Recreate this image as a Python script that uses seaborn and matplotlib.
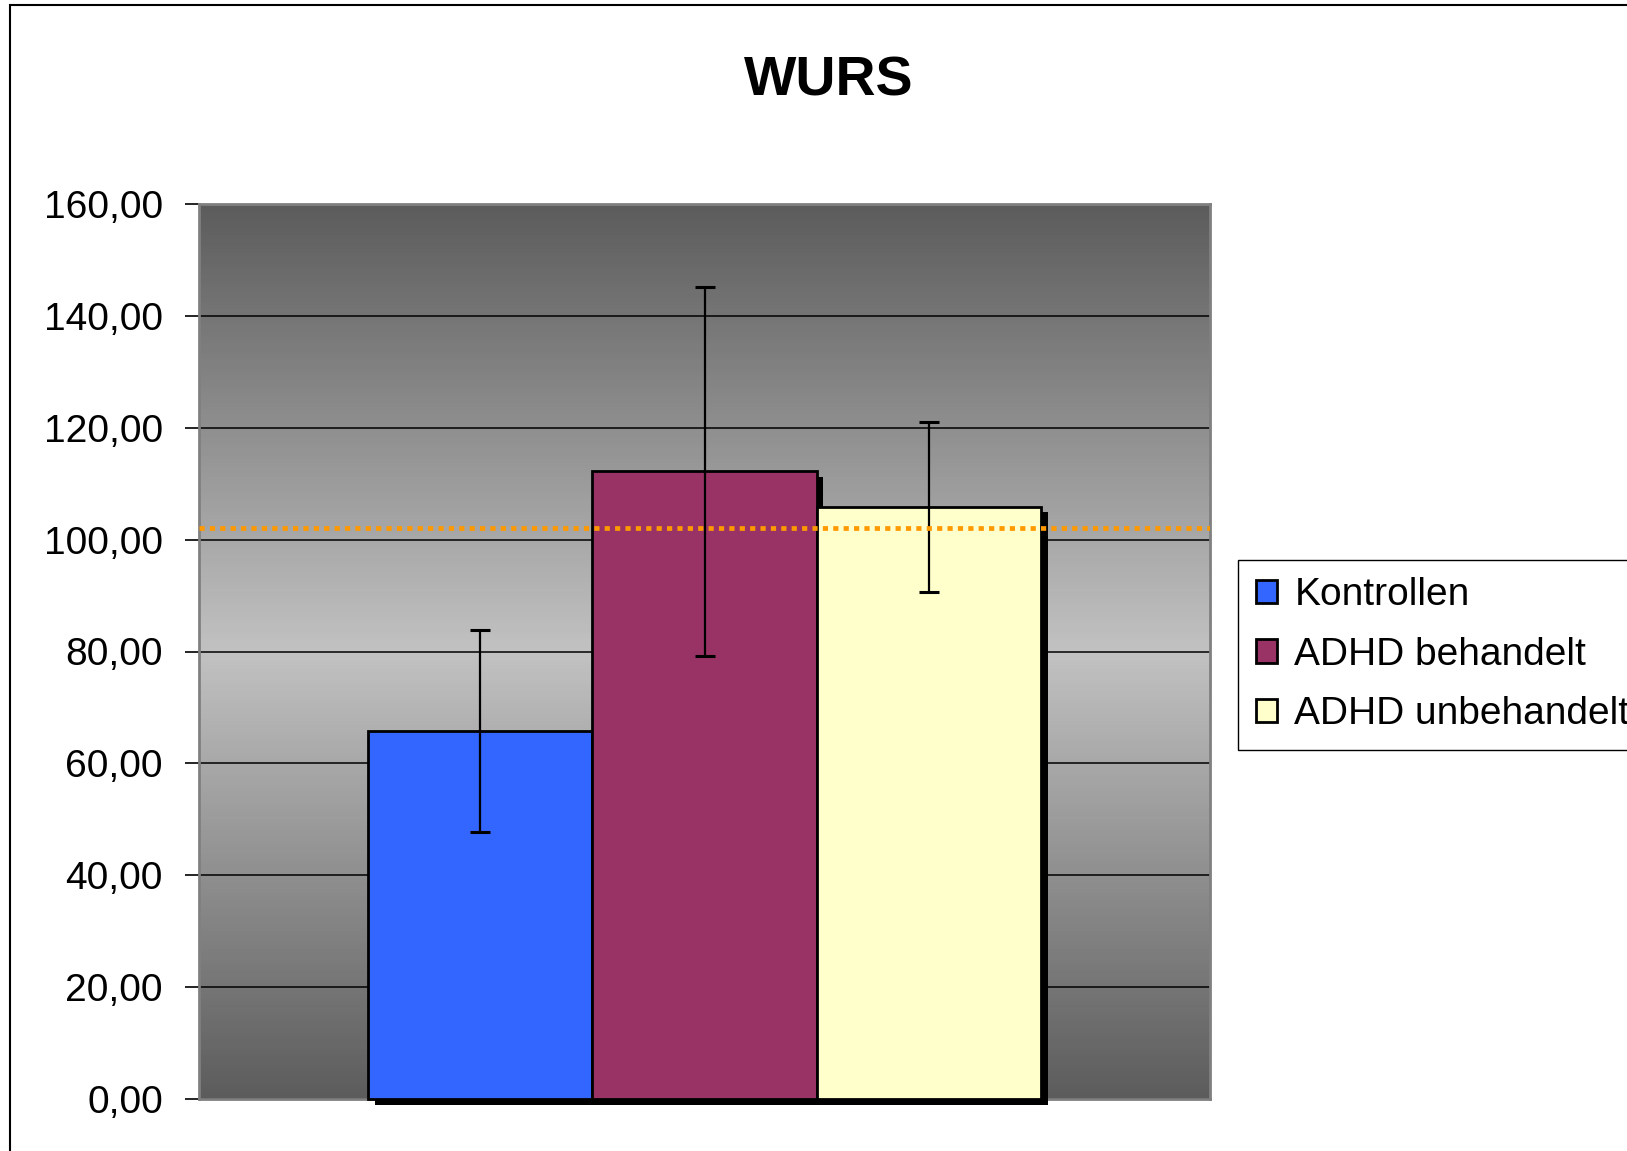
import numpy as np
import pandas as pd
import seaborn as sns
import matplotlib.pyplot as plt
import matplotlib.patheffects as pe
from matplotlib.ticker import FuncFormatter, MultipleLocator

sns.set_theme(style="white")
plt.rcParams["font.family"] = ["Liberation Sans", "DejaVu Sans"]
plt.rcParams["text.color"] = "black"

# data
groups = ["Kontrollen", "ADHD behandelt", "ADHD unbehandelt"]
means = [65.8, 112.2, 105.9]
errors = [18.1, 33.0, 15.2]
cutoff = 102.0
colors = ["#3366FF", "#993366", "#FFFFCC"]

df = pd.DataFrame({"skala": ["WURS"] * 3, "gruppe": groups, "wert": means})

fig = plt.figure(figsize=(16.27, 11.51), dpi=100)
ax = fig.add_axes([199 / 1627, 1 - 1099 / 1151, 1011 / 1627, 895 / 1151])

# grauer Verlauf im Hintergrund
t = np.linspace(0, 1, 256)
v = 1 - np.abs(2 * t - 1)
grad = (0x5c + (0xc2 - 0x5c) * v) / 255
img = np.stack([grad, grad, grad], axis=-1)[:, None, :].repeat(2, axis=1)
ax.imshow(img, extent=[0, 1, 0, 1], transform=ax.transAxes, aspect="auto", zorder=0)

sns.barplot(data=df, x="skala", y="wert", hue="gruppe", palette=colors, saturation=1,
            width=0.665, edgecolor="black", linewidth=2, errorbar=None, ax=ax,
            zorder=3)

shadow = [pe.SimplePatchShadow(offset=(5, -4), shadow_rgbFace="black", alpha=1.0), pe.Normal()]
bars = [p for p in ax.patches if p.get_height() > 0]
for p in bars:
    p.set_path_effects(shadow)
    p.set_clip_on(False)

# Fehlerbalken
xs = [p.get_x() + p.get_width() / 2 for p in bars]
ax.errorbar(xs, means, yerr=errors, fmt="none", ecolor="black", elinewidth=1.6,
            capsize=7.5, capthick=2.2, zorder=5)

ax.axhline(cutoff, color="#FF9900", linestyle=(0, (1.1, 1.1)), linewidth=3.4, zorder=6)

ax.set_xlim(-0.5, 0.5)
ax.set_ylim(0, 160)
ax.yaxis.set_major_locator(MultipleLocator(20))
ax.yaxis.set_major_formatter(FuncFormatter(lambda y, _: f"{y:.2f}".replace(".", ",")))
ax.grid(axis="y", color="black", linewidth=1.1)
ax.set_axisbelow(True)
ax.set_xticks([])
ax.set_xlabel("")
ax.set_ylabel("")
ax.tick_params(axis="y", left=True, length=10, width=1.2, color="black",
               pad=16, labelsize=28, labelcolor="black")
for s in ax.spines.values():
    s.set_color("#808080")
    s.set_linewidth(2)

handles, labels = ax.get_legend_handles_labels()
for h in handles:
    h.set_edgecolor("black")
    h.set_linewidth(2)
ax.legend(handles, labels, loc="upper left", bbox_to_anchor=(1238 / 1627, 1 - 560 / 1151),
          bbox_transform=fig.transFigure, borderaxespad=0, fontsize=28, frameon=True,
          fancybox=False, edgecolor="black", framealpha=1, borderpad=0.45,
          labelspacing=0.6, handlelength=0.55, handleheight=0.55, handletextpad=0.45,
          labelcolor="black")
ax.get_legend().get_frame().set_linewidth(1)

fig.text(829 / 1627, 1 - 82 / 1151, "WURS", ha="center", va="center",
         fontsize=40, fontweight="bold", color="black")

# Rahmen des Diagrammbereichs
fig.patches.append(plt.Rectangle((10 / 1627, -0.02), 1.05, 1 - 5 / 1151 + 0.02,
                                 transform=fig.transFigure, fill=False,
                                 edgecolor="black", linewidth=1.5))

fig.savefig("out.png", dpi=100)
